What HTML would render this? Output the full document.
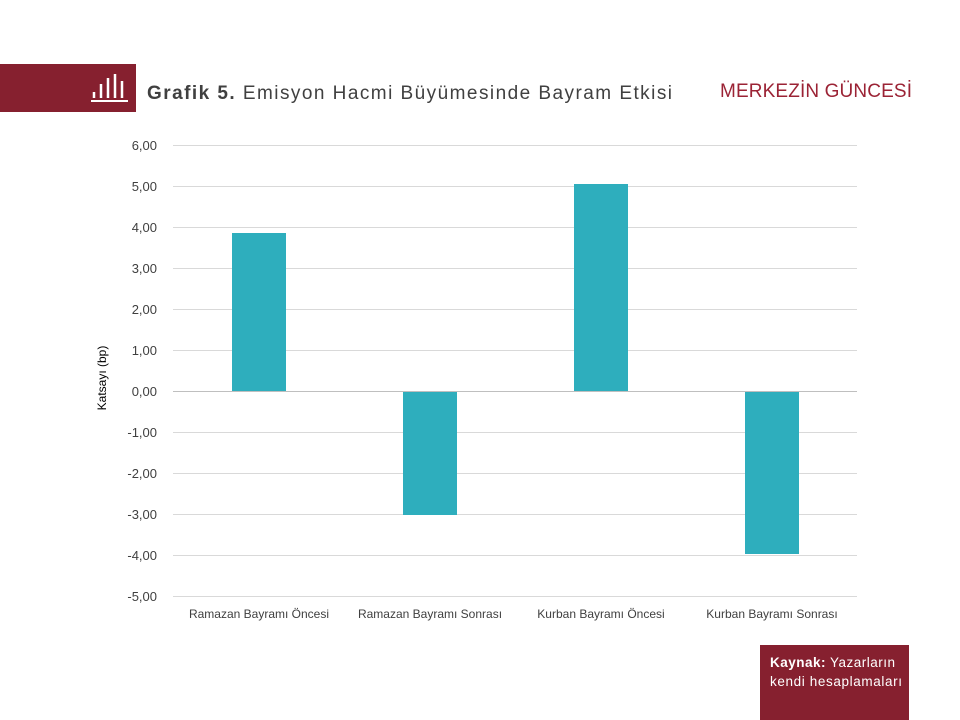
<!DOCTYPE html>
<html><head><meta charset="utf-8"><style>
body{margin:0;width:960px;height:720px;background:#fff;overflow:hidden;font-family:"Liberation Sans",sans-serif}
</style></head><body>
<svg width="960" height="720" xmlns="http://www.w3.org/2000/svg" style="position:absolute;left:0;top:0">
<rect x="0" y="64" width="136" height="48" fill="#86202f"/>
<g stroke="#fff" stroke-width="2.5" fill="none">
<line x1="91" y1="101" x2="128" y2="101" stroke-width="2"/>
<line x1="94" y1="98" x2="94" y2="92"/>
<line x1="101" y1="98" x2="101" y2="84"/>
<line x1="108" y1="98" x2="108" y2="78"/>
<line x1="115" y1="98" x2="115" y2="74"/>
<line x1="122" y1="98" x2="122" y2="81"/>
</g>
<text x="147" y="99" font-size="19" fill="#404040" textLength="525" lengthAdjust="spacing"><tspan font-weight="bold">Grafik 5.</tspan> Emisyon Hacmi Büyümesinde Bayram Etkisi</text>
<text x="720" y="97" font-size="19" fill="#9b2335" textLength="192" lengthAdjust="spacing">MERKEZİN GÜNCESİ</text>
<g stroke="#d9d9d9" stroke-width="1">
<line x1="173" x2="857" y1="145.5" y2="145.5"/><line x1="173" x2="857" y1="186.5" y2="186.5"/>
<line x1="173" x2="857" y1="227.5" y2="227.5"/><line x1="173" x2="857" y1="268.5" y2="268.5"/>
<line x1="173" x2="857" y1="309.5" y2="309.5"/><line x1="173" x2="857" y1="350.5" y2="350.5"/>
<line x1="173" x2="857" y1="432.5" y2="432.5"/><line x1="173" x2="857" y1="473.5" y2="473.5"/>
<line x1="173" x2="857" y1="514.5" y2="514.5"/><line x1="173" x2="857" y1="555.5" y2="555.5"/>
<line x1="173" x2="857" y1="596.5" y2="596.5"/>
</g>
<g fill="#2eaebd">
<rect x="232" y="233" width="54" height="158"/>
<rect x="403" y="391" width="54" height="124"/>
<rect x="574" y="184" width="54" height="207"/>
<rect x="745" y="391" width="54" height="163"/>
</g>
<line x1="173" x2="857" y1="391.5" y2="391.5" stroke="#bfbfbf"/>
<g font-size="13" fill="#404040" text-anchor="end">
<text x="157" y="150">6,00</text><text x="157" y="191">5,00</text><text x="157" y="232">4,00</text>
<text x="157" y="273">3,00</text><text x="157" y="314">2,00</text><text x="157" y="355">1,00</text>
<text x="157" y="396">0,00</text><text x="157" y="437">-1,00</text><text x="157" y="478">-2,00</text>
<text x="157" y="519">-3,00</text><text x="157" y="560">-4,00</text><text x="157" y="601">-5,00</text>
</g>
<g font-size="12" fill="#404040" text-anchor="middle">
<text x="259" y="618">Ramazan Bayramı Öncesi</text>
<text x="430" y="618">Ramazan Bayramı Sonrası</text>
<text x="601" y="618">Kurban Bayramı Öncesi</text>
<text x="772" y="618">Kurban Bayramı Sonrası</text>
</g>
<text transform="translate(106,378) rotate(-90)" font-size="12" fill="#000" text-anchor="middle">Katsayı (bp)</text>
<rect x="760" y="645" width="149" height="75" fill="#86202f"/>
<text x="770" y="667" font-size="13.5" fill="#fff" textLength="125" lengthAdjust="spacing"><tspan font-weight="bold">Kaynak:</tspan> Yazarların</text>
<text x="770" y="686" font-size="13.5" fill="#fff" textLength="132" lengthAdjust="spacing">kendi hesaplamaları</text>
</svg>
</body></html>
